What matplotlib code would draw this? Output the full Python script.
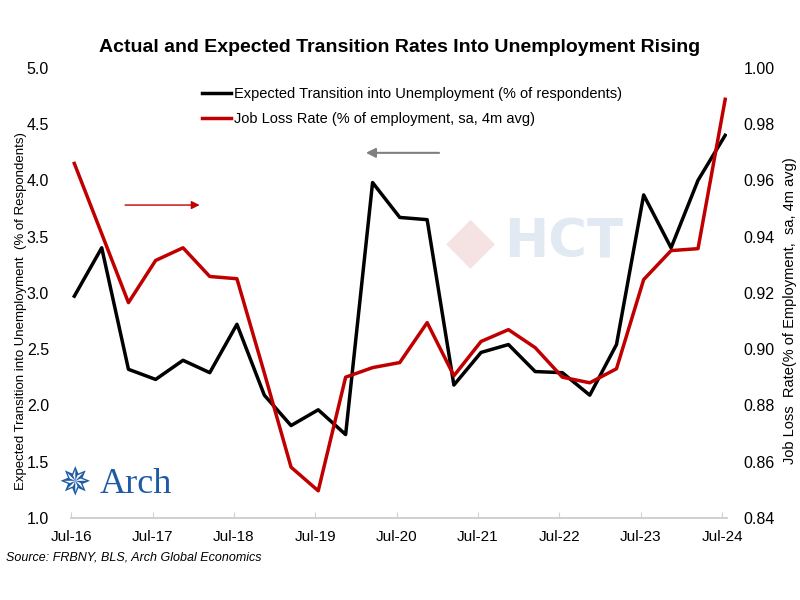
import matplotlib
matplotlib.use("Agg")
import matplotlib.pyplot as plt
import pandas as pd
from matplotlib import font_manager

names = {f.name for f in font_manager.fontManager.ttflist}
base_font = "Liberation Sans Narrow" if "Liberation Sans Narrow" in names else "Liberation Sans"
plt.rcParams['font.family'] = [base_font, 'DejaVu Sans']

# ---- data ----
dates = pd.date_range("2016-07-01", periods=25, freq="4MS") + pd.Timedelta(days=14)
expected = [2.97, 3.40, 2.32, 2.23, 2.40, 2.29, 2.72, 2.09, 1.82, 1.96, 1.74, 3.98, 3.67,
            3.65, 2.18, 2.47, 2.54, 2.30, 2.29, 2.09, 2.54, 3.87, 3.40, 4.00, 4.40]
job_loss = [0.966, 0.941, 0.9165, 0.9315, 0.936, 0.9258, 0.925, 0.8915, 0.858, 0.8496,
            0.890, 0.8934, 0.8952, 0.9094, 0.8905, 0.9027, 0.9069, 0.9005, 0.890, 0.888,
            0.893, 0.9247, 0.935, 0.9357, 0.9888]
tick_dates = pd.to_datetime(["2016-07-01", "2017-07-01", "2018-07-01", "2019-07-01", "2020-07-01",
                             "2021-07-01", "2022-07-01", "2023-07-01", "2024-07-01"])
tick_labels = ["Jul-16", "Jul-17", "Jul-18", "Jul-19", "Jul-20", "Jul-21", "Jul-22", "Jul-23", "Jul-24"]
left_ticks = [1.0, 1.5, 2.0, 2.5, 3.0, 3.5, 4.0, 4.5, 5.0]
right_ticks = [0.84, 0.86, 0.88, 0.90, 0.92, 0.94, 0.96, 0.98, 1.00]

fig = plt.figure(figsize=(8, 6), dpi=100)
ax = fig.add_axes([0.089, 0.137, 0.82, 0.75])
ax2 = ax.twinx()

# watermark
fig.text(0.705, 0.595, "HCT", fontsize=38, fontweight='bold', color='#e1e9f3',
         ha='center', va='center', family='DejaVu Sans', zorder=0)
fig.text(0.588, 0.595, "\u25C6", fontsize=46, color='#f5e2e2', ha='center', va='center',
         family='DejaVu Sans', zorder=0)

l1, = ax.plot(dates, expected, color='black', lw=2.5, zorder=3,
              label="Expected Transition into Unemployment (% of respondents)")
l2, = ax2.plot(dates, job_loss, color='#c00000', lw=2.5, zorder=3,
               label="Job Loss Rate (% of employment, sa, 4m avg)")

ax.set_ylim(1.0, 5.0)
ax2.set_ylim(0.84, 1.00)
ax.set_yticks(left_ticks)
ax.set_yticklabels([f"{v:.1f}" for v in left_ticks])
ax2.set_yticks(right_ticks)
ax2.set_yticklabels([f"{v:.2f}" for v in right_ticks])
ax.set_xlim(pd.Timestamp("2016-07-01"), pd.Timestamp("2024-07-24"))
ax.set_xticks(tick_dates)
ax.set_xticklabels(tick_labels)

for a in (ax, ax2):
    for s in ("top", "left", "right"):
        a.spines[s].set_visible(False)
    a.spines["bottom"].set_color("#d0d0d0")
    a.spines["bottom"].set_linewidth(1.2)
ax.tick_params(axis='x', direction='in', length=4, color='#d0d0d0', labelsize=11, pad=9)
ax.tick_params(axis='y', length=0, labelsize=11.5, pad=16)
ax2.tick_params(axis='y', length=0, labelsize=11.5, pad=12)

ax.set_ylabel("Expected Transition into Unemployment  (% of Respondents)", fontsize=9.5)
ax.yaxis.set_label_coords(-0.068, 0.46)
ax2.set_ylabel("Job Loss  Rate(% of Employment,  sa, 4m avg)", fontsize=10.5)
ax2.yaxis.set_label_coords(1.085, 0.46)

fig.text(0.5, 0.92, "Actual and Expected Transition Rates Into Unemployment Rising",
         ha='center', va='center', fontsize=14, fontweight='bold')

leg = ax.legend(handles=[l1, l2], loc='upper left', bbox_to_anchor=(0.19, 0.97),
                frameon=False, fontsize=10.5, handlelength=2.0, handletextpad=0.2,
                labelspacing=0.75, borderaxespad=0)

# arrows
ax.annotate("", xy=(0.445, 0.811), xytext=(0.565, 0.811), xycoords='axes fraction',
            arrowprops=dict(arrowstyle='-|>', color='#808080', lw=1.5, mutation_scale=14))
ax.annotate("", xy=(0.20, 0.695), xytext=(0.078, 0.695), xycoords='axes fraction',
            arrowprops=dict(arrowstyle='-|>', color='#c00000', lw=1.0, mutation_scale=12))

# logo
fig.text(0.125, 0.192, "Arch", fontsize=26, color='#1f5aa6', family='Liberation Serif',
         ha='left', va='center')
fig.text(0.094, 0.192, "\u2735", fontsize=28, color='#1f5aa6', family='DejaVu Sans',
         ha='center', va='center')

fig.text(0.008, 0.07, "Source: FRBNY, BLS, Arch Global Economics", fontsize=9,
         style='italic', ha='left', va='center')

fig.savefig("out.png", dpi=100)
